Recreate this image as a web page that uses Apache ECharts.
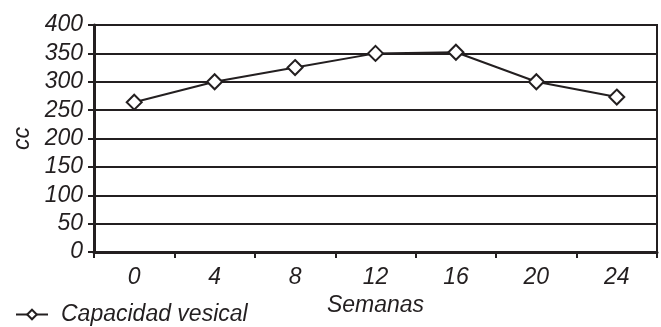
<!DOCTYPE html>
<html>
<head>
<meta charset="utf-8">
<script src="https://cdn.jsdelivr.net/npm/echarts@6/dist/echarts.min.js"></script>
<style>
html,body{margin:0;padding:0;background:#fff;}
#c{width:661px;height:327px;}
</style>
</head>
<body>
<div id="c"></div>
<script>
const categories = ['0', '4', '8', '12', '16', '20', '24'];
const capacidadVesical = [264, 300, 325, 350, 352, 300, 273];
const seriesName = 'Capacidad vesical';
const xName = 'Semanas';
const yName = 'cc';

const ink = '#231f20';
const font = '"Liberation Sans", Arial, Helvetica, sans-serif';
const chart = echarts.init(document.getElementById('c'), null, {renderer: 'canvas'});
chart.setOption({
  animation: false,
  backgroundColor: '#fff',
  grid: {left: 94, right: 4, top: 25, bottom: 75, show: true, borderColor: ink, borderWidth: 2, backgroundColor: 'transparent'},
  legend: {
    left: 15, top: 303, padding: 0,
    itemWidth: 32, itemHeight: 12, itemGap: 10,
    textStyle: {fontFamily: font, fontStyle: 'italic', fontSize: 23, color: ink, padding: [0, 0, 0, 8]},
    data: [seriesName]
  },
  xAxis: {
    type: 'category',
    data: categories,
    boundaryGap: true,
    name: xName,
    nameLocation: 'middle',
    nameGap: 40,
    nameTextStyle: {fontFamily: font, fontStyle: 'italic', fontSize: 23, color: ink},
    axisLine: {lineStyle: {color: ink, width: 3}},
    axisTick: {show: true, length: 6, lineStyle: {color: ink, width: 2}},
    axisLabel: {margin: 14, fontFamily: font, fontStyle: 'italic', fontSize: 23, color: ink},
    splitLine: {show: false}
  },
  yAxis: {
    type: 'value',
    min: 0, max: 400, interval: 50,
    name: yName,
    nameLocation: 'middle',
    nameGap: 57,
    nameRotate: 90,
    nameTextStyle: {fontFamily: font, fontStyle: 'italic', fontSize: 23, color: ink},
    axisLine: {show: true, lineStyle: {color: ink, width: 3}},
    axisTick: {show: true, length: 6, lineStyle: {color: ink, width: 2}},
    axisLabel: {margin: 11, fontFamily: font, fontStyle: 'italic', fontSize: 23, color: ink},
    splitLine: {show: true, lineStyle: {color: ink, width: 2}}
  },
  series: [{
    name: seriesName,
    type: 'line',
    data: capacidadVesical,
    symbol: 'diamond',
    symbolSize: 15,
    showAllSymbol: true,
    lineStyle: {color: ink, width: 2},
    itemStyle: {color: '#fff', borderColor: ink, borderWidth: 2},
    emphasis: {disabled: true}
  }]
});
</script>
</body>
</html>
